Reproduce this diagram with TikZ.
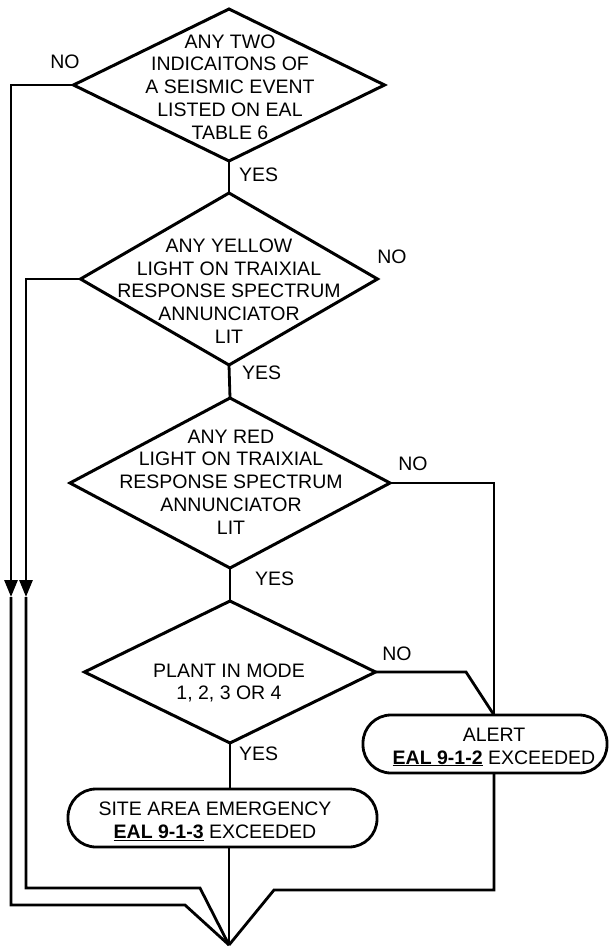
\documentclass[tikz,border=0pt]{standalone}
\usepackage{fontspec}
\setmainfont{Liberation Sans}
\usetikzlibrary{shapes.geometric,arrows.meta,calc}
\begin{document}
\begin{tikzpicture}[x=1pt,y=-1pt,
  line/.style={line width=2.8pt, line join=miter},
  dia/.style={diamond, draw, line width=3pt, inner sep=0pt, outer sep=0pt},
  txt/.style={align=center, font=\fontsize{19.5}{22.8}\selectfont, inner sep=0pt},
  lbl/.style={font=\fontsize{19.5}{22.8}\selectfont, inner sep=0pt},
  endbox/.style={draw, line width=2.8pt, rounded corners=28pt, inner sep=0pt, outer sep=0pt},
  tip/.style={-{Triangle[width=13pt,length=17pt]}}]
\useasboundingbox (0,0) rectangle (609,947);

% decision diamonds
\node[dia, minimum width=311pt, minimum height=152pt] (d1) at (229,85) {};
\node[dia, minimum width=297pt, minimum height=172pt] (d2) at (229,279) {};
\node[dia, minimum width=320pt, minimum height=170pt] (d3) at (230,483) {};
\node[dia, minimum width=291pt, minimum height=142pt] (d4) at (230,672) {};

\node[txt] (t1) at (230,87) {ANY TWO\\INDICAITONS OF\\A SEISMIC EVENT\\LISTED ON EAL\\TABLE 6};
\node[txt] (t2) at (229,291) {ANY YELLOW\\LIGHT ON TRAIXIAL\\RESPONSE SPECTRUM\\ANNUNCIATOR\\LIT};
\node[txt] (t3) at (231,482) {ANY RED\\LIGHT ON TRAIXIAL\\RESPONSE SPECTRUM\\ANNUNCIATOR\\LIT};
\node[txt] (t4) at (229,683) {PLANT IN MODE\\1, 2, 3 OR 4};

% end boxes
\node[endbox, minimum width=244pt, minimum height=58pt] (alert) at (485,744) {};
\node[txt] (alertt) at (494,747) {ALERT\\\underline{\textbf{EAL 9-1-2}} EXCEEDED};
\node[endbox, minimum width=309pt, minimum height=58pt] (site) at (222.5,818) {};
\node[txt] (sitet) at (215,821) {SITE AREA EMERGENCY\\\underline{\textbf{EAL 9-1-3}} EXCEEDED};

% labels
\node[lbl, anchor=west] (y1) at (239,175) {YES};
\node[lbl, anchor=west] (y2) at (242,373) {YES};
\node[lbl, anchor=west] (y3) at (255,579) {YES};
\node[lbl, anchor=west] (y4) at (239,754) {YES};
\node[lbl] (n1) at (65,62) {NO};
\node[lbl] (n2) at (392,257) {NO};
\node[lbl] (n3) at (413,464) {NO};
\node[lbl] (n4) at (397,654) {NO};

% helper coordinates
\coordinate (join) at (229,945);
\coordinate (a1) at (11,597);
\coordinate (a2) at (26,597);
\coordinate (ain) at (494,715);
\coordinate (aout) at (494,773);
\coordinate (bend4) at (466,672);

% main YES chain
\draw[line] (d1.south) -- (d2.north);
\draw[line] (d2.south) -- (d3.north);
\draw[line] (d3.south) -- (d4.north);
\draw[line] (d4.south) -- (d4.south |- site.north);
\draw[line] (site.south -| join) -- (join);

% NO branches on the left
\draw[line, tip] (d1.west) -| (a1);
\draw[line] (a1) -- (11,905) -- (185,905) -- (join);
\draw[line, tip] (d2.west) -| (a2);
\draw[line] (a2) -- (26,888) -- (200,888) -- (join);

% NO branches on the right
\draw[line] (d3.east) -| (ain);
\draw[line] (d4.east) -- (bend4) -- (ain);
\draw[line] (aout) -- (494,890) -- (274,890) -- (join);
\end{tikzpicture}
\end{document}
